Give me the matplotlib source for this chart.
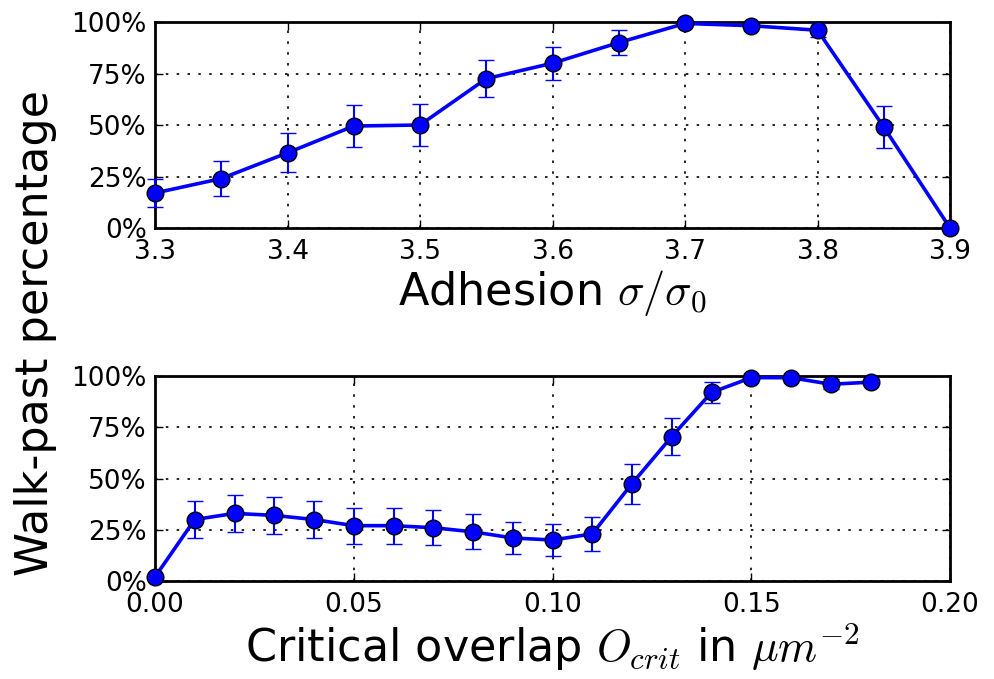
import matplotlib
matplotlib.use("Agg")
import matplotlib.pyplot as plt
from matplotlib.ticker import FuncFormatter

# adhesion sweep
adhesion = [3.30, 3.35, 3.40, 3.45, 3.50, 3.55, 3.60, 3.65, 3.70, 3.75, 3.80, 3.85, 3.90]
adh_pct = [17, 24, 36.5, 49.5, 50, 72.5, 80, 90, 99.3, 98.2, 96, 49, 0]
adh_err = [7, 8.3, 9.5, 10, 10, 9, 8, 6, 1, 0.8, 3.5, 10, 0]

# critical overlap sweep
overlap = [0.00, 0.01, 0.02, 0.03, 0.04, 0.05, 0.06, 0.07, 0.08, 0.09,
           0.10, 0.11, 0.12, 0.13, 0.14, 0.15, 0.16, 0.17, 0.18]
ovl_pct = [2, 30, 33, 32, 30, 27, 27, 26, 24, 21, 20, 23, 47.5, 70.5, 92, 99.2, 99.2, 96, 97]
ovl_err = [0, 9, 9, 9, 9, 8.7, 8.7, 8.5, 8.5, 7.8, 7.8, 8.3, 9.7, 8.8, 5.3, 0.5, 1, 2.5, 1]

pct_ticks = [0, 25, 50, 75, 100]

plt.rcParams['mathtext.fontset'] = 'cm'
plt.rcParams['font.family'] = 'DejaVu Sans'

fig = plt.figure(figsize=(9.95, 6.79), dpi=100)
ax1 = fig.add_axes([0.1558, 0.6642, 0.799, 0.3034])
ax2 = fig.add_axes([0.1558, 0.1443, 0.799, 0.3019])


def style(ax):
    ax.set_ylim(0, 100)
    ax.set_yticks(pct_ticks)
    ax.yaxis.set_major_formatter(FuncFormatter(lambda v, p: '%d%%' % v))
    ax.grid(True, color='k', linestyle=(0, (1.5, 5)), linewidth=1.2)
    ax.tick_params(direction='in', top=True, right=True, length=6, width=1,
                   labelsize=19)
    ax.tick_params(axis='x', pad=8)
    ax.tick_params(axis='y', pad=6)
    for s in ax.spines.values():
        s.set_linewidth(2)


def draw(ax, x, y, e):
    ax.errorbar(x, y, yerr=e, color='b', linewidth=2.6, marker='o', markersize=12,
                markerfacecolor='b', markeredgecolor='k', markeredgewidth=1,
                ecolor='b', elinewidth=1.5, capsize=6, capthick=1.5,
                clip_on=False, zorder=3)


draw(ax1, adhesion, adh_pct, adh_err)
style(ax1)
ax1.set_xlim(3.3, 3.9)
ax1.set_xticks([3.3, 3.4, 3.5, 3.6, 3.7, 3.8, 3.9])
ax1.set_xlabel(r'Adhesion $\sigma/\sigma_0$', fontsize=32, labelpad=2)

draw(ax2, overlap, ovl_pct, ovl_err)
style(ax2)
ax2.set_xlim(0, 0.2)
ax2.set_xticks([0.0, 0.05, 0.10, 0.15, 0.20])
ax2.xaxis.set_major_formatter(FuncFormatter(lambda v, p: '%.2f' % v))
ax2.set_xlabel(r'Critical overlap $O_{crit}$ in $\mu m^{-2}$', fontsize=32, labelpad=2)

fig.text(0.036, 0.51, 'Walk-past percentage', rotation=90, fontsize=32,
         ha='center', va='center')

fig.savefig('out.png', dpi=100, facecolor='white')
